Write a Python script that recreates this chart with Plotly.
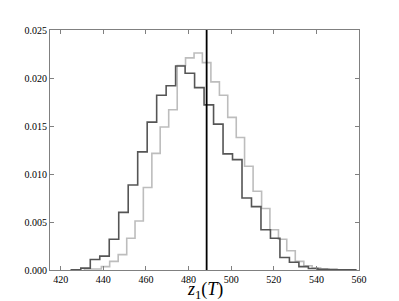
import plotly.graph_objects as go

# Dark histogram (bin edges and densities)
dark_edges = [425.0, 429.45, 433.9, 438.35, 442.8, 447.25, 451.7, 456.15, 460.6, 465.05,
              469.5, 473.95, 478.4, 482.85, 487.3, 491.75, 496.2, 500.65, 505.1, 509.55,
              514.0, 518.45, 522.9, 527.35, 531.8, 536.25, 540.7, 545.15, 549.6, 554.05, 558.5]
dark_vals = [0.00003, 0.0002, 0.0011, 0.00145, 0.0032, 0.006, 0.00885, 0.0123, 0.0154, 0.0182,
             0.0192, 0.02125, 0.0205, 0.0190, 0.0172, 0.0152, 0.0121, 0.0115, 0.0075, 0.0066,
             0.0042, 0.0033, 0.0013, 0.0008, 0.00035, 0.00015, 0.00008, 0.00004, 0.00003, 0.00003]

# Light histogram
light_edges = [431.2, 435.2, 439.1, 443.0, 447.0, 451.0, 454.9, 458.8, 462.8, 466.7,
               470.7, 474.7, 478.6, 482.6, 486.5, 490.5, 494.5, 498.4, 502.4, 506.3,
               510.3, 514.3, 518.2, 522.2, 526.1, 530.1, 534.1, 538.0, 542.0, 545.9, 549.9]
light_vals = [0.0001, 0.0001, 0.00035, 0.0009, 0.0016, 0.0033, 0.0051, 0.0086, 0.01215, 0.0149,
              0.0167, 0.0213, 0.0221, 0.0226, 0.0216, 0.0196, 0.0182, 0.0159, 0.0138, 0.0108,
              0.0082, 0.0064, 0.0042, 0.0032, 0.002, 0.0009, 0.00045, 0.0002, 0.0001, 0.00005]

observed = 488.5

x_ticks = [420, 440, 460, 480, 500, 520, 540, 560]
y_ticks = [0.000, 0.005, 0.010, 0.015, 0.020, 0.025]
x_title = "<i>z</i><sub>1</sub>(<i>T</i>)"


def step_xy(edges, vals):
    xs = [edges[0]] + list(edges)
    ys = [0] + list(vals) + [0]
    return xs, ys


fig = go.Figure()
lx, ly = step_xy(light_edges, light_vals)
dx, dy = step_xy(dark_edges, dark_vals)
fig.add_trace(go.Scatter(x=lx, y=ly, mode="lines", line=dict(color="#bdbdbd", width=1.6, shape="hv"),
                         showlegend=False, hoverinfo="skip"))
fig.add_trace(go.Scatter(x=dx, y=dy, mode="lines", line=dict(color="#555555", width=1.6, shape="hv"),
                         showlegend=False, hoverinfo="skip"))
fig.add_shape(type="line", x0=observed, x1=observed, y0=0, y1=1, xref="x", yref="y domain",
              line=dict(color="black", width=1.8))

axis_common = dict(showline=True, linecolor="#808080", linewidth=1, mirror="ticks",
                   ticks="inside", ticklen=4, tickcolor="#808080", showgrid=False, zeroline=False,
                   automargin=False,
                   tickfont=dict(family="Liberation Serif", size=10, color="black"))

fig.update_xaxes(range=[415, 560], tickvals=x_ticks, ticktext=[str(v) for v in x_ticks],
                 **axis_common)
fig.update_yaxes(range=[0, 0.025], tickvals=y_ticks, ticktext=[f"{v:.3f}" for v in y_ticks],
                 **axis_common)

fig.add_annotation(text=x_title, xref="paper", yref="paper", x=0.5, y=0, xanchor="center",
                   yanchor="middle", yshift=-20, showarrow=False,
                   font=dict(family="Liberation Serif", size=18, color="black"))

# page body has an 8px default margin, so the figure is offset by 8px
fig.update_layout(width=391, height=293, margin=dict(l=42, r=40, t=22, b=31),
                  plot_bgcolor="white", paper_bgcolor="white")

fig.write_html("out.html")
